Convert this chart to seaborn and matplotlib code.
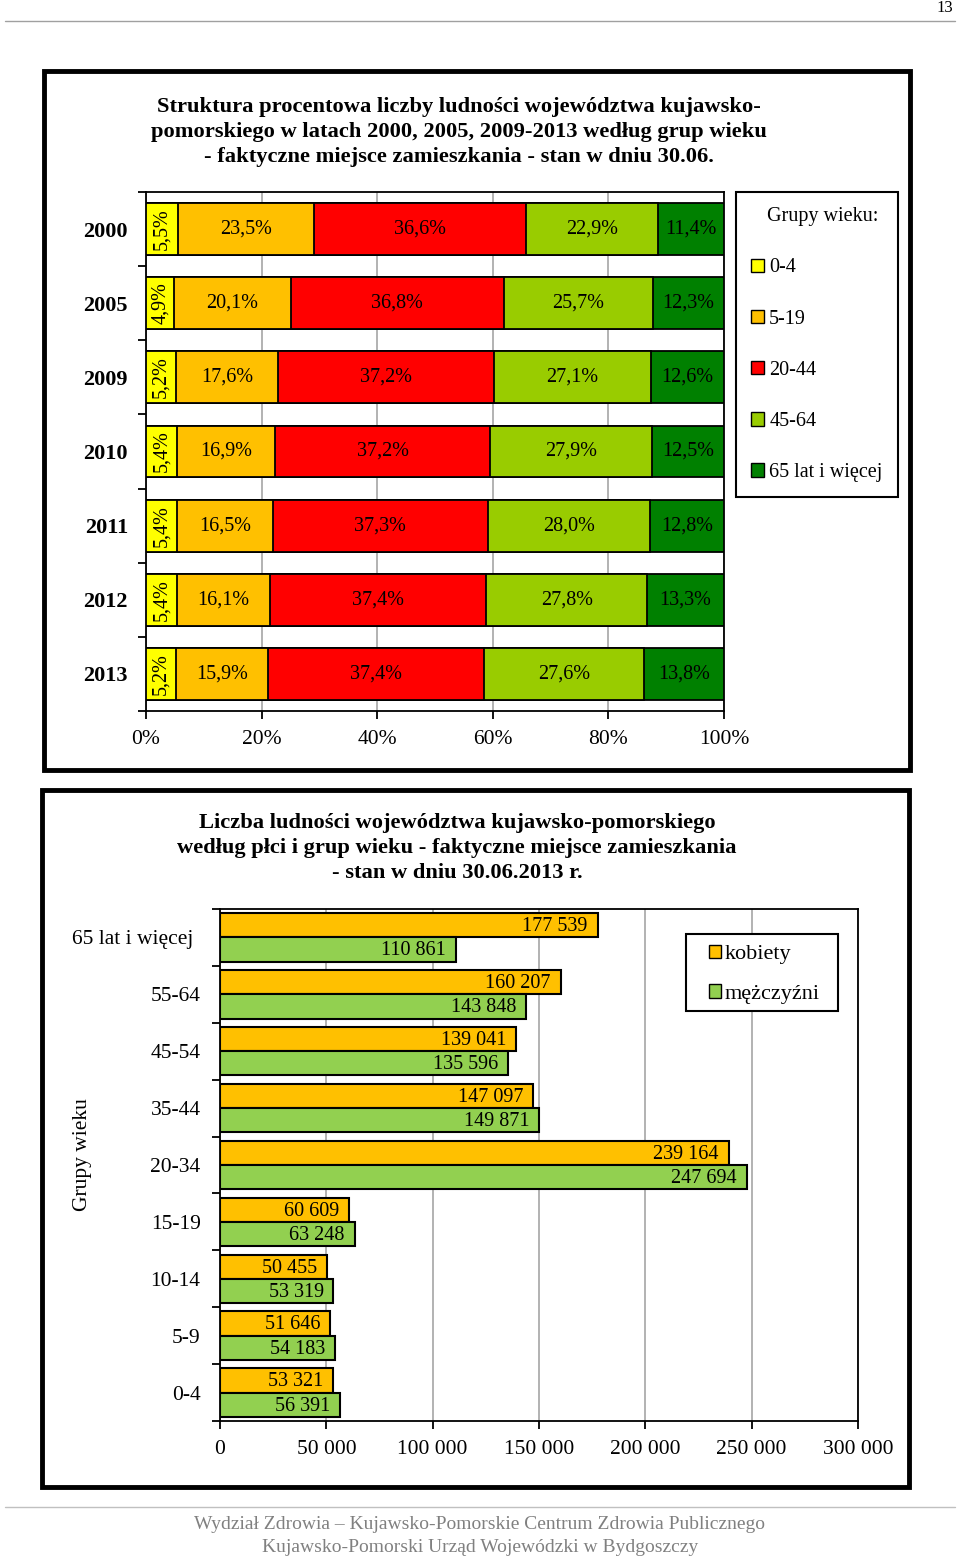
import matplotlib
matplotlib.use("Agg")
import matplotlib.pyplot as plt
import matplotlib.ticker as mticker
import matplotlib.transforms as mtransforms
from matplotlib.patches import Patch, Rectangle
from matplotlib.lines import Line2D
import seaborn as sns
import numpy as np
import pandas as pd

# --- data: age structure 2000-2013 (%) ---
years = ["2000", "2005", "2009", "2010", "2011", "2012", "2013"]
age_groups = ["0-4", "5-19", "20-44", "45-64", "65 lat i więcej"]
share_0_4 = [5.5, 4.9, 5.2, 5.4, 5.4, 5.4, 5.2]
share_5_19 = [23.5, 20.1, 17.6, 16.9, 16.5, 16.1, 15.9]
share_20_44 = [36.6, 36.8, 37.2, 37.2, 37.3, 37.4, 37.4]
share_45_64 = [22.9, 25.7, 27.1, 27.9, 28.0, 27.8, 27.6]
share_65 = [11.4, 12.3, 12.6, 12.5, 12.8, 13.3, 13.8]
age_colors = ["#FFFF00", "#FFC000", "#FF0000", "#99CC00", "#008000"]

# --- data: population by sex and age group, 30.06.2013 ---
groups_2013 = ["65 lat i więcej", "55-64", "45-54", "35-44", "20-34",
               "15-19", "10-14", "5-9", "0-4"]
women = [177539, 160207, 139041, 147097, 239164, 60609, 50455, 51646, 53321]
men = [110861, 143848, 135596, 149871, 247694, 63248, 53319, 54183, 56391]
sex_labels = ["kobiety", "mężczyźni"]
sex_colors = ["#FFC000", "#92D050"]

W, H = 960, 1557
sns.set_theme(style="white")
plt.rcParams["font.family"] = ["Liberation Serif", "DejaVu Serif"]
plt.rcParams["axes.edgecolor"] = "black"
plt.rcParams["text.color"] = "black"
plt.rcParams["xtick.color"] = "black"
plt.rcParams["ytick.color"] = "black"

fig = plt.figure(figsize=(W / 100, H / 100), dpi=100)


def fig_box(x0, y0, x1, y1):
    # pixel box (top-left origin) -> figure fraction rect
    return [x0 / W, 1 - y1 / H, (x1 - x0) / W, (y1 - y0) / H]


def num_fmt(v, pos=None):
    return f"{int(v):,}".replace(",", " ")


# ================= chart 1: stacked 100% bars =================
ax1 = fig.add_axes(fig_box(146, 192, 724, 711))
shares = np.array([share_0_4, share_5_19, share_20_44, share_45_64, share_65]).T
pct = shares / shares.sum(axis=1, keepdims=True) * 100
cum = pct.cumsum(axis=1)

for k in range(len(age_groups) - 1, -1, -1):
    sns.barplot(x=cum[:, k], y=years, orient="y", color=age_colors[k],
                saturation=1, width=0.7, edgecolor="black", linewidth=1.3,
                ax=ax1, zorder=3)

for k in range(len(age_groups)):
    for i in range(len(years)):
        label = f"{shares[i, k]:.1f}%".replace(".", ",")
        xc = cum[i, k] - pct[i, k] / 2
        if k == 0:
            ax1.text(xc, i, label, rotation=90, ha="center", va="center",
                     fontsize=14.5, zorder=5)
        else:
            ax1.text(xc, i, label, ha="center", va="center",
                     fontsize=14.5, zorder=5)

ax1.set_xlim(0, 100)
ax1.set_ylim(len(years) - 0.5, -0.5)
ax1.xaxis.set_major_locator(mticker.MultipleLocator(20))
ax1.xaxis.set_major_formatter(mticker.FuncFormatter(lambda v, p: f"{v:.0f}%"))
ax1.xaxis.grid(True, color="#A6A6A6", linewidth=1.2)
ax1.set_axisbelow(True)
ax1.set_xlabel("")
ax1.set_ylabel("")
ax1.tick_params(axis="x", which="major", direction="out", length=6, width=1.3,
                labelsize=15.5, pad=8, bottom=True)
ax1.tick_params(axis="y", which="major", length=0, labelsize=16, pad=13)
ax1.set_yticks(np.arange(-0.5, len(years), 1), minor=True)
ax1.tick_params(axis="y", which="minor", direction="out", length=6, width=1.3,
                left=True)
for lab in ax1.get_yticklabels():
    lab.set_fontweight("bold")
for sp in ax1.spines.values():
    sp.set_visible(True)
    sp.set_color("black")
    sp.set_linewidth(1.3)

leg1 = ax1.legend(
    handles=[Patch(facecolor=c, edgecolor="black", label=l)
             for c, l in zip(age_colors, age_groups)],
    title="Grupy wieku:", loc="upper left",
    bbox_to_anchor=(736 / W, 1 - 192 / H), bbox_transform=fig.transFigure,
    frameon=True, fancybox=False, edgecolor="black", framealpha=1,
    fontsize=14.5, title_fontsize=14.5, labelspacing=1.6,
    handlelength=0.65, handleheight=0.65, handletextpad=0.25,
    borderpad=0.75, borderaxespad=0)
leg1.get_frame().set_linewidth(1.5)
leg1._legend_box.align = "left"
leg1.get_title().set_position((16, 0))

fig.text(459 / W, 1 - 132 / H,
         "Struktura procentowa liczby ludności województwa kujawsko-\n"
         "pomorskiego w latach 2000, 2005, 2009-2013 według grup wieku\n"
         "- faktyczne miejsce zamieszkania - stan w dniu 30.06.",
         ha="center", va="center", fontsize=16.2, fontweight="bold",
         linespacing=1.36)

# ================= chart 2: women / men by age group =================
ax2 = fig.add_axes(fig_box(220, 909, 858, 1421))
df = pd.DataFrame({
    "grupa": groups_2013 * 2,
    "płeć": [sex_labels[0]] * len(groups_2013) + [sex_labels[1]] * len(groups_2013),
    "liczba": women + men,
})
sns.barplot(data=df, x="liczba", y="grupa", hue="płeć", orient="y",
            hue_order=sex_labels, palette=dict(zip(sex_labels, sex_colors)),
            saturation=1, width=0.85, edgecolor="black", linewidth=1.5,
            legend=False, ax=ax2, zorder=3)

for cont, vals in zip(ax2.containers, [women, men]):
    for patch, v in zip(cont.patches, vals):
        ax2.annotate(num_fmt(v),
                     xy=(patch.get_width(), patch.get_y() + patch.get_height() / 2),
                     xytext=(-7, -1), textcoords="offset points",
                     ha="right", va="center", fontsize=14.5, zorder=5)

ax2.set_xlim(0, 300000)
ax2.set_ylim(len(groups_2013) - 0.5, -0.5)
ax2.xaxis.set_major_locator(mticker.MultipleLocator(50000))
ax2.xaxis.set_major_formatter(mticker.FuncFormatter(num_fmt))
ax2.xaxis.grid(True, color="#A6A6A6", linewidth=1.2)
ax2.set_axisbelow(True)
ax2.set_xlabel("")
ax2.set_ylabel("")
ax2.tick_params(axis="x", which="major", direction="out", length=6, width=1.3,
                labelsize=15.5, pad=8, bottom=True)
ax2.tick_params(axis="y", which="major", length=0, labelsize=15.5, pad=14)
ax2.set_yticks(np.arange(-0.5, len(groups_2013), 1), minor=True)
ax2.tick_params(axis="y", which="minor", direction="out", length=6, width=1.3,
                left=True)
for sp in ax2.spines.values():
    sp.set_visible(True)
    sp.set_color("black")
    sp.set_linewidth(1.3)
# the long first label sits a little further left in the original
first_lab = ax2.get_yticklabels()[0]
first_lab.set_transform(first_lab.get_transform() +
                        mtransforms.ScaledTranslation(-0.07, 0, fig.dpi_scale_trans))

# legend frame drawn as a separate box (wider side padding than matplotlib gives)
fig.add_artist(Rectangle((686 / W, 1 - 1011 / H), (838 - 686) / W, (1011 - 934) / H,
                         transform=fig.transFigure, facecolor="white",
                         edgecolor="black", linewidth=1.5, zorder=2))
leg2 = fig.legend(
    handles=[Patch(facecolor=c, edgecolor="black", label=l)
             for c, l in zip(sex_colors, sex_labels)],
    loc="upper left", bbox_to_anchor=(702 / W, 1 - 938 / H),
    frameon=False, fontsize=16, labelspacing=0.9, handlelength=0.55,
    handleheight=0.55, handletextpad=0.15, borderpad=0.3, borderaxespad=0)
leg2.set_zorder(6)

fig.text(83 / W, 1 - 1155 / H, "Grupy wieku", rotation=90,
         ha="center", va="center", fontsize=15.5)

fig.text(457 / W, 1 - 848 / H,
         "Liczba ludności województwa kujawsko-pomorskiego\n"
         "według płci i grup wieku - faktyczne miejsce zamieszkania\n"
         "- stan w dniu 30.06.2013 r.",
         ha="center", va="center", fontsize=16.2, fontweight="bold",
         linespacing=1.36)

# ================= page frames, header, footer =================
for x0, y0, x1, y1 in [(44, 71, 910, 770), (42, 790, 909, 1487)]:
    fig.add_artist(Rectangle((x0 / W, 1 - y1 / H), (x1 - x0) / W, (y1 - y0) / H,
                             transform=fig.transFigure, fill=False,
                             edgecolor="black", linewidth=3.5))

fig.add_artist(Line2D([5 / W, 955 / W], [1 - 21 / H] * 2,
                      transform=fig.transFigure, color="#A0A0A0", linewidth=1))
fig.text(945 / W, 1 - 8 / H, "13", ha="center", va="center", fontsize=12)

fig.add_artist(Line2D([5 / W, 955 / W], [1 - 1507 / H] * 2,
                      transform=fig.transFigure, color="#C0C0C0", linewidth=1))
fig.text(480 / W, 1 - 1536 / H,
         "Wydział Zdrowia – Kujawsko-Pomorskie Centrum Zdrowia Publicznego\n"
         "Kujawsko-Pomorski Urząd Wojewódzki w Bydgoszczy",
         ha="center", va="center", fontsize=14, color="#808080",
         linespacing=1.4)

fig.savefig("out.png", dpi=100)
